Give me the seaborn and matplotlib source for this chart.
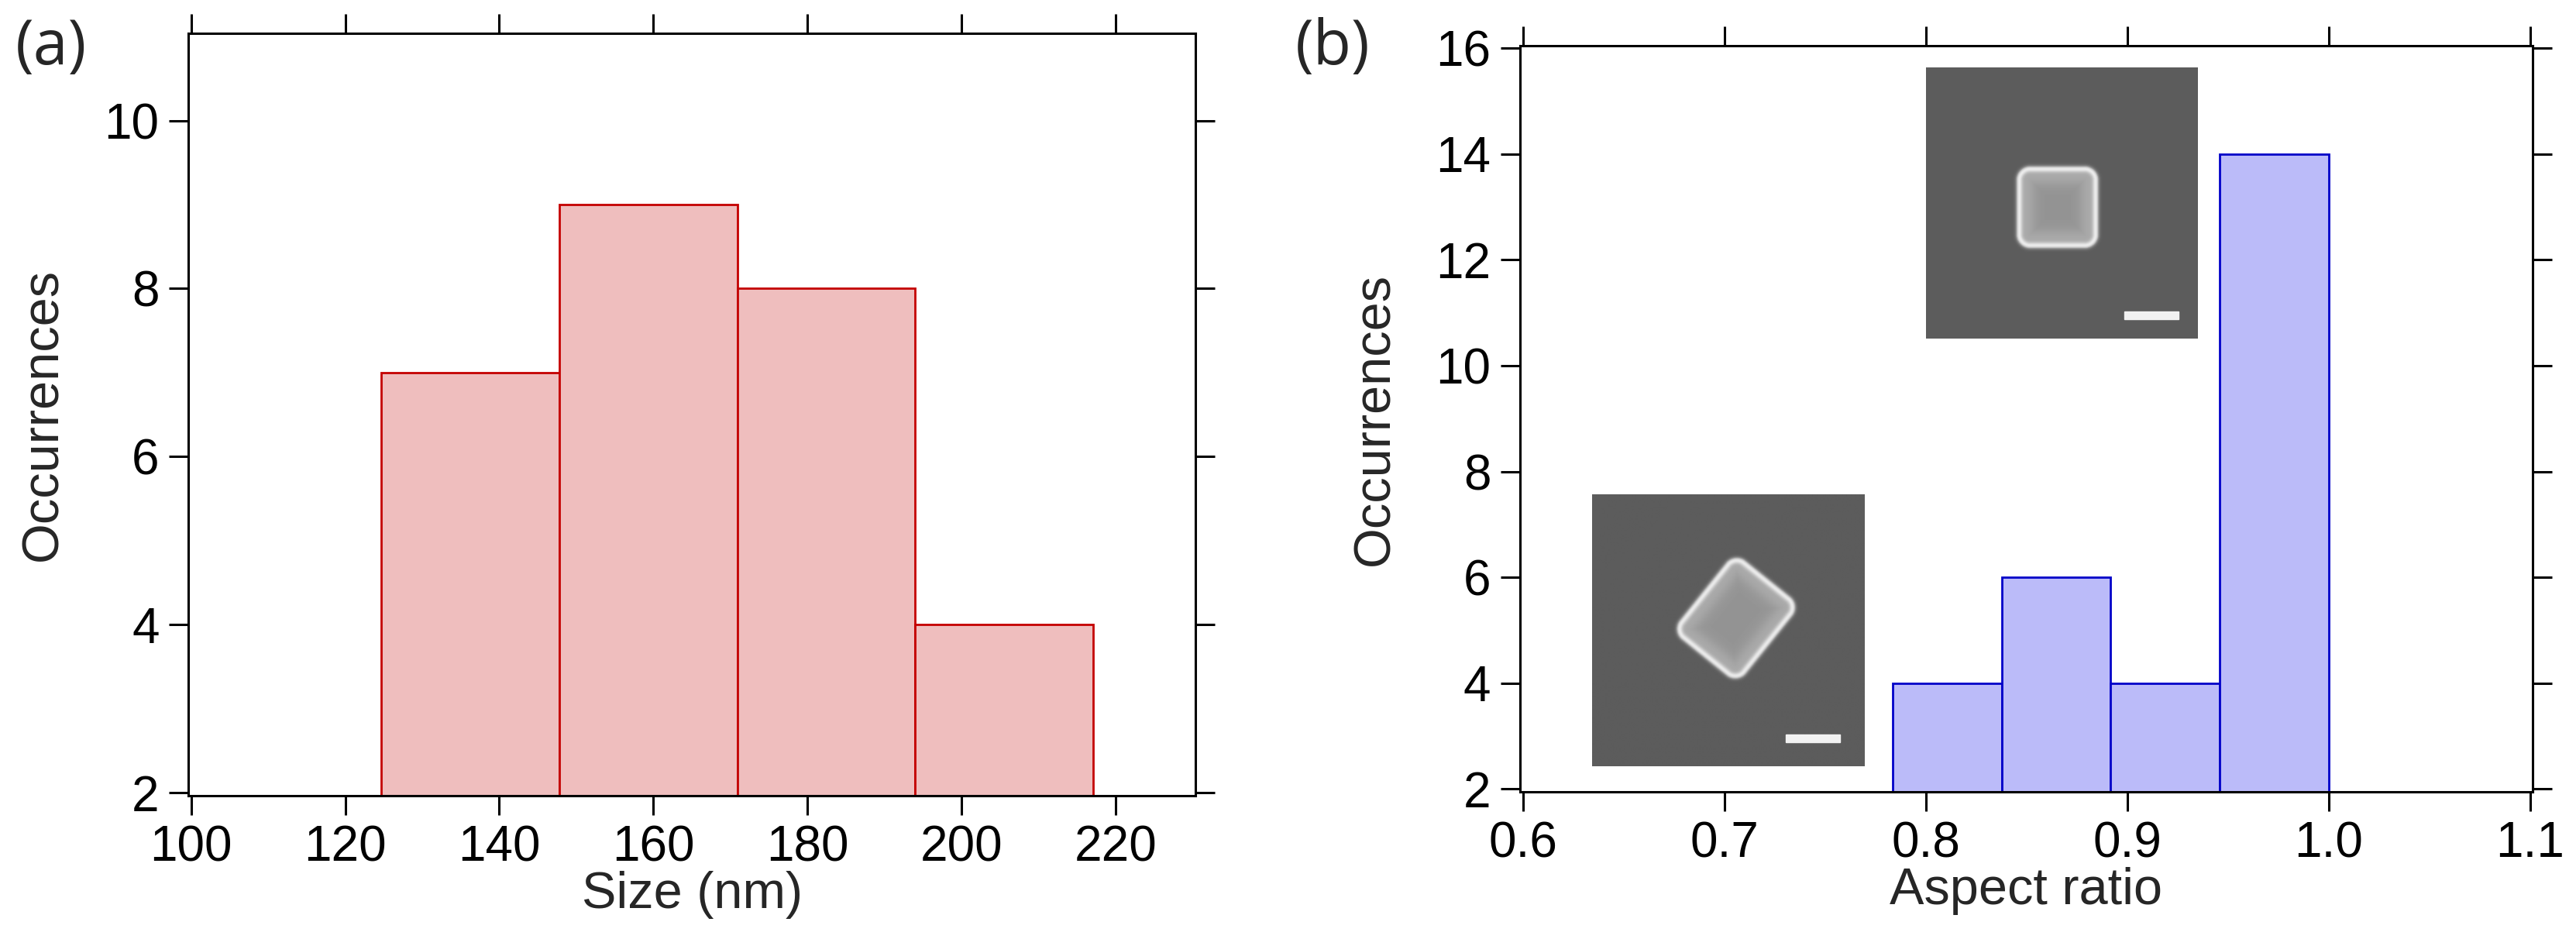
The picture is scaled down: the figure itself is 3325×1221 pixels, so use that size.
import numpy as np
import pandas as pd
import matplotlib.pyplot as plt
import seaborn as sns
from matplotlib.patches import Rectangle

# === Data ===
# (a) particle size histogram
size_edges = [124.7, 147.8, 170.9, 194.0, 217.1]
size_counts = [7, 9, 8, 4]
size_xticks = [100, 120, 140, 160, 180, 200, 220]
size_yticks = [2, 4, 6, 8, 10]

# (b) aspect ratio histogram
ratio_edges = [0.7836, 0.8377, 0.8918, 0.9459, 1.0000]
ratio_counts = [4, 6, 4, 14]
ratio_xticks = [0.6, 0.7, 0.8, 0.9, 1.0, 1.1]
ratio_yticks = [2, 4, 6, 8, 10, 12, 14, 16]

sns.set_theme(style="ticks")
plt.rcParams['font.family'] = ['Liberation Sans', 'DejaVu Sans']
plt.rcParams['axes.linewidth'] = 2.2


def centers(edges):
    e = np.asarray(edges)
    return (e[:-1] + e[1:]) / 2


def style_axes(ax, xticks, yticks, xlim, ylim, xlabel):
    ax.set_xlim(*xlim)
    ax.set_ylim(*ylim)
    ax.set_xticks(xticks)
    ax.set_yticks(yticks)
    ax.set_xticklabels([f"{t:g}" if isinstance(t, int) else f"{t:.1f}" for t in xticks])
    for s in ax.spines.values():
        s.set_visible(True)
        s.set_color("black")
        s.set_linewidth(2.2)
    ax.tick_params(direction="out", length=18, width=2.2, top=True, right=True,
                   labelsize=46, colors="black", pad=9)
    ax.set_xlabel(xlabel, fontsize=48, labelpad=0)
    ax.set_ylabel("Occurrences", fontsize=48, labelpad=34)
    ax.grid(False)


def sem_image(n, cx, cy, a, b, ang, r):
    yy, xx = (np.mgrid[0:n, 0:n] + 0.5) / n
    dx, dy = xx - cx, yy - cy
    c, s = np.cos(ang), np.sin(ang)
    u = dx * c + dy * s
    v = -dx * s + dy * c
    qx = np.abs(u) - (a - r)
    qy = np.abs(v) - (b - r)
    d = (np.sqrt(np.maximum(qx, 0) ** 2 + np.maximum(qy, 0) ** 2)
         + np.minimum(np.maximum(qx, qy), 0) - r)
    img = 0.36 + 0.22 / (1 + np.exp(d / 0.003))
    img += 0.30 * np.exp(-((d + 0.009) / 0.012) ** 2)
    img += 0.08 * np.exp(-((d + 0.035) / 0.035) ** 2) * (d < 0)
    return np.clip(img, 0, 1)


def add_inset(fig, rect, img, bar):
    ax = fig.add_axes(rect)
    ax.imshow(img, cmap="gray", vmin=0, vmax=1, extent=(0, 1, 1, 0),
              interpolation="bilinear")
    ax.add_patch(Rectangle((bar[0], bar[1]), bar[2], bar[3], color="#f2f2f2"))
    ax.set_xlim(0, 1)
    ax.set_ylim(1, 0)
    ax.axis("off")
    return ax


fig = plt.figure(figsize=(33.25, 12.21), dpi=100)
ax1 = fig.add_axes([0.0731, 0.1589, 0.3910, 0.8061])
ax2 = fig.add_axes([0.5900, 0.1632, 0.3932, 0.7882])

# --- (a) ---
df_a = pd.DataFrame({"size": centers(size_edges), "count": size_counts})
sns.histplot(data=df_a, x="size", weights="count", bins=size_edges, ax=ax1,
             color="#EFBEBE", edgecolor="#C40000", linewidth=2.0, alpha=1)
style_axes(ax1, size_xticks, size_yticks, (99.63, 230.4), (1.966, 11.04), "Size (nm)")

# --- (b) ---
df_b = pd.DataFrame({"ratio": centers(ratio_edges), "count": ratio_counts})
sns.histplot(data=df_b, x="ratio", weights="count", bins=ratio_edges, ax=ax2,
             color="#BBBBF9", edgecolor="#0000C8", linewidth=2.0, alpha=1)
style_axes(ax2, ratio_xticks, ratio_yticks, (0.5985, 1.1014), (1.95, 16.044), "Aspect ratio")

# SEM insets
img_tilted = sem_image(351, 0.528, 0.457, 0.155, 0.185, np.deg2rad(38.8), 0.05)
img_square = sem_image(351, 0.4835, 0.517, 0.150, 0.150, 0.0, 0.05)
add_inset(fig, [0.6180, 0.1900, 0.1056, 0.2875], img_tilted, (0.713, 0.882, 0.199, 0.029))
add_inset(fig, [0.7476, 0.6419, 0.1053, 0.2867], img_square, (0.733, 0.898, 0.200, 0.031))

# panel labels
fig.text(20 / 3325, 1 - 22 / 1221, "(a)", fontsize=58, family=["Open Sans", "DejaVu Sans"],
         va="top", ha="left")
fig.text(1672 / 3325, 1 - 22 / 1221, "(b)", fontsize=58, family=["Open Sans", "DejaVu Sans"],
         va="top", ha="left")

fig.savefig("out.png", dpi=100)
